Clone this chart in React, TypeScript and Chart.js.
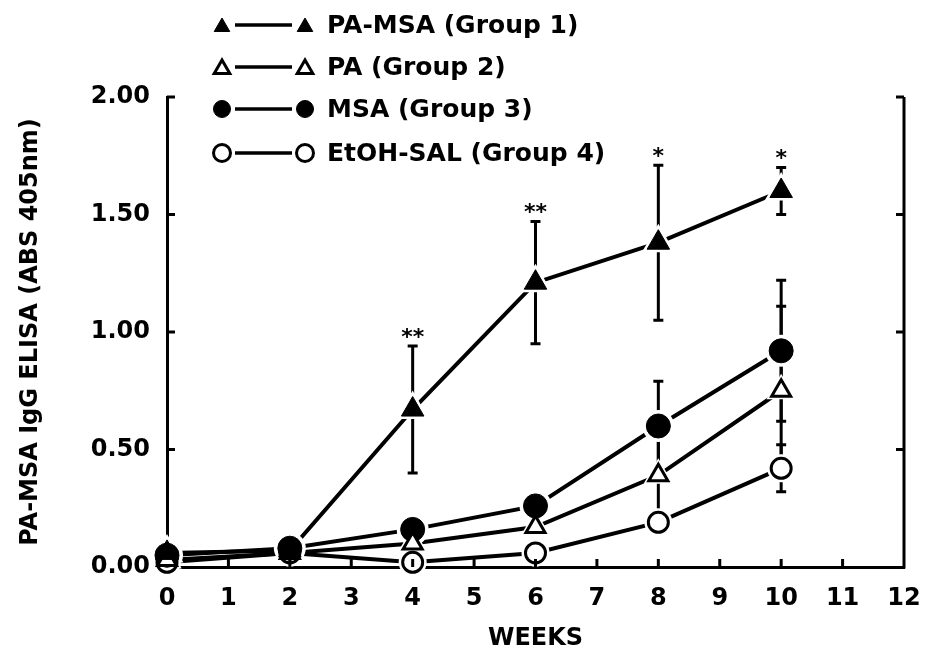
import React, { useEffect, useRef } from "react";
import { Chart, registerables } from "chart.js";
import { drawPoint } from "chart.js/helpers";

Chart.register(...registerables);

const weeks = [0, 2, 4, 6, 8, 10];
const g1 = [0.06, 0.07, 0.67, 1.21, 1.38, 1.6];
const g1Err = [0, 0, 0.27, 0.26, 0.33, 0.1];
const g2 = [0.03, 0.06, 0.1, 0.17, 0.39, 0.75];
const g2Err = [0, 0, 0, 0, 0.18, 0.36];
const g3 = [0.05, 0.08, 0.16, 0.26, 0.6, 0.92];
const g3Err = [0, 0, 0, 0, 0.19, 0.3];
const g4 = [0.02, 0.06, 0.02, 0.06, 0.19, 0.42];
const g4Err = [0, 0, 0, 0, 0.02, 0.1];
const sigLabels = ["", "", "**", "**", "*", "*"];
const seriesNames = ["PA-MSA (Group 1)", "PA (Group 2)", "MSA (Group 3)", "EtOH-SAL (Group 4)"];
const xTickValues = [0, 1, 2, 3, 4, 5, 6, 7, 8, 9, 10, 11, 12];
const yTickValues = [0, 0.5, 1, 1.5, 2];

const FONT = "'DejaVu Sans', sans-serif";

const toPts = (ys: number[]) => weeks.map((x, i) => ({ x, y: ys[i] }));
const groups = [
  { name: seriesNames[0], ys: g1, err: g1Err, style: "triangle", filled: true, r: 13 },
  { name: seriesNames[1], ys: g2, err: g2Err, style: "triangle", filled: false, r: 11 },
  { name: seriesNames[2], ys: g3, err: g3Err, style: "circle", filled: true, r: 12 },
  { name: seriesNames[3], ys: g4, err: g4Err, style: "circle", filled: false, r: 10 },
];

const axesPlugin = {
  id: "insideAxes",
  beforeDatasetsDraw(chart: any) {
    const { ctx, scales } = chart;
    const xs = scales.x;
    const ys = scales.y;
    ctx.save();
    ctx.strokeStyle = "#000";
    ctx.lineWidth = 3;
    groups.forEach((g) => {
      g.ys.forEach((v, i) => {
        const e = g.err[i];
        if (!e) return;
        const px = xs.getPixelForValue(weeks[i]);
        const top = ys.getPixelForValue(v + e);
        const bot = ys.getPixelForValue(v - e);
        ctx.beginPath();
        ctx.moveTo(px, top);
        ctx.lineTo(px, bot);
        ctx.moveTo(px - 5, top);
        ctx.lineTo(px + 5, top);
        ctx.moveTo(px - 5, bot);
        ctx.lineTo(px + 5, bot);
        ctx.stroke();
      });
    });
    ctx.restore();
  },
  afterDraw(chart: any) {
    const { ctx, scales } = chart;
    const xs = scales.x;
    const ys = scales.y;
    ctx.save();
    ctx.strokeStyle = "#000";
    ctx.lineWidth = 3;
    const L = xs.getPixelForValue(0);
    const R = xs.getPixelForValue(12);
    const B = ys.getPixelForValue(0);
    const T = ys.getPixelForValue(2);
    ctx.beginPath();
    ctx.moveTo(R, B + 1.5);
    ctx.lineTo(R, T);
    ctx.stroke();
    yTickValues.forEach((v) => {
      if (v === 0) return;
      const py = ys.getPixelForValue(v);
      ctx.beginPath();
      ctx.moveTo(L, py);
      ctx.lineTo(L + 8, py);
      ctx.moveTo(R, py);
      ctx.lineTo(R - 8, py);
      ctx.stroke();
    });
    xTickValues.forEach((v) => {
      if (v === 0 || v === 12) return;
      const px = xs.getPixelForValue(v);
      ctx.beginPath();
      ctx.moveTo(px, B);
      ctx.lineTo(px, B - 8);
      ctx.stroke();
    });
    // significance asterisks
    ctx.fillStyle = "#000";
    ctx.font = `bold 22px ${FONT}`;
    ctx.textAlign = "center";
    ctx.textBaseline = "bottom";
    weeks.forEach((w, i) => {
      if (!sigLabels[i]) return;
      const px = xs.getPixelForValue(w);
      const py = ys.getPixelForValue(g1[i] + g1Err[i]);
      ctx.fillText(sigLabels[i], px, py + 3);
    });
    // legend
    const rowsY = [25, 67, 109, 153];
    groups.forEach((g, i) => {
      const y = rowsY[i];
      const opts = {
        pointStyle: g.style,
        radius: g.style === "triangle" ? 9 : 8.5,
        rotation: 0,
        borderWidth: g.filled ? 1 : 3,
      };
      const dy = g.style === "triangle" ? 2 : 0;
      ctx.strokeStyle = "#000";
      ctx.lineWidth = 3.5;
      ctx.beginPath();
      ctx.moveTo(235, y);
      ctx.lineTo(292, y);
      ctx.stroke();
      ctx.lineWidth = opts.borderWidth;
      ctx.fillStyle = g.filled ? "#000" : "#fff";
      drawPoint(ctx, opts, 222, y + dy);
      ctx.fillStyle = g.filled ? "#000" : "#fff";
      drawPoint(ctx, opts, 305, y + dy);
      ctx.fillStyle = "#000";
      ctx.font = `bold 25px ${FONT}`;
      ctx.textAlign = "left";
      ctx.textBaseline = "middle";
      ctx.fillText(g.name, 327, y + 1);
    });
    ctx.restore();
  },
};

export default function App() {
  const ref = useRef<HTMLCanvasElement | null>(null);
  useEffect(() => {
    if (!ref.current) return;
    const lineSets = groups.map((g) => ({
      label: g.name,
      data: toPts(g.ys),
      borderColor: "#000",
      borderWidth: 4,
      pointRadius: 0,
      tension: 0,
      fill: false,
      clip: false,
      order: 3,
    }));
    const haloSets = groups.map((g) => ({
      label: g.name + " halo",
      data: toPts(g.ys),
      showLine: false,
      pointStyle: g.style,
      pointRadius: g.r + (g.style === "triangle" ? 6 : 4),
      pointBackgroundColor: "#fff",
      pointBorderColor: "#fff",
      pointBorderWidth: 0,
      clip: false,
      order: 2,
    }));
    const markerSets = groups.map((g) => ({
      label: g.name + " marker",
      data: toPts(g.ys),
      showLine: false,
      pointStyle: g.style,
      pointRadius: g.r,
      pointBackgroundColor: g.filled ? "#000" : "#fff",
      pointBorderColor: "#000",
      pointBorderWidth: g.filled ? 1 : 3,
      clip: false,
      order: 1,
    }));
    const chart = new Chart(ref.current, {
      type: "line",
      data: { datasets: [...markerSets, ...haloSets, ...lineSets] },
      options: {
        responsive: false,
        animation: false,
        layout: { padding: { top: 97, right: 21, bottom: 0, left: 0 } },
        plugins: { legend: { display: false }, tooltip: { enabled: false } },
        scales: {
          x: {
            type: "linear",
            min: 0,
            max: 12,
            afterFit: (s: any) => {
              s.height = 87;
              s.paddingLeft = 0;
              s.paddingRight = 0;
            },
            afterBuildTicks: (s: any) => {
              s.ticks = xTickValues.map((v) => ({ value: v }));
            },
            ticks: {
              color: "#000",
              font: { family: FONT, weight: "bold", size: 24 },
              padding: 17,
              maxRotation: 0,
              autoSkip: false,
            },
            grid: { display: false, drawTicks: false },
            border: { display: true, color: "#000", width: 3 },
            title: {
              display: true,
              text: "WEEKS",
              color: "#000",
              font: { family: FONT, weight: "bold", size: 24 },
              padding: { top: 0, bottom: 1 },
            },
          },
          y: {
            type: "linear",
            min: 0,
            max: 2,
            afterFit: (s: any) => {
              s.width = 167;
              s.paddingTop = 0;
              s.paddingBottom = 0;
            },
            afterBuildTicks: (s: any) => {
              s.ticks = yTickValues.map((v) => ({ value: v }));
            },
            ticks: {
              color: "#000",
              font: { family: FONT, weight: "bold", size: 24 },
              padding: 17,
              callback: (v: any) => Number(v).toFixed(2),
            },
            grid: { display: false, drawTicks: false },
            border: { display: true, color: "#000", width: 3 },
            title: {
              display: true,
              text: "PA-MSA IgG ELISA (ABS 405nm)",
              color: "#000",
              font: { family: FONT, weight: "bold", size: 24 },
              padding: { top: 16, bottom: 0 },
            },
          },
        },
      },
      plugins: [axesPlugin],
    } as any);
    return () => chart.destroy();
  }, []);
  return (
    <div style={{ position: "fixed", left: 0, top: 0, width: 925, height: 654, background: "#fff" }}>
      <canvas ref={ref} width={925} height={654} style={{ display: "block" }} />
    </div>
  );
}
